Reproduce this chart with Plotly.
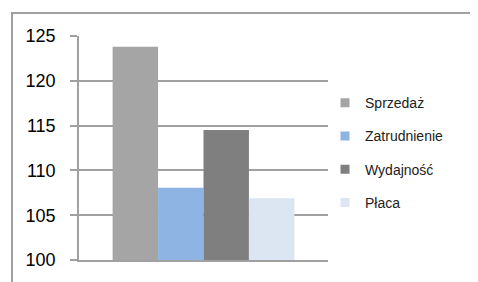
import plotly.graph_objects as go

categories = ["Sprzedaż", "Zatrudnienie", "Wydajność", "Płaca"]
values = [123.8, 108.05, 114.5, 106.9]
colors = ["#A5A5A5", "#8EB4E3", "#7F7F7F", "#DCE6F2"]
y_ticks = [100, 105, 110, 115, 120, 125]

fig = go.Figure()
for name, v, c in zip(categories, values, colors):
    fig.add_trace(go.Bar(x=[""], y=[v - 100], base=100, name=name,
                         marker=dict(color=c, line=dict(width=0)),
                         showlegend=False))
for name, c in zip(categories, colors):
    fig.add_trace(go.Scatter(x=[None], y=[None], mode="markers", name=name,
                             legendgroup=name,
                             marker=dict(symbol="square", size=9, color=c)))

grid = "#A0A0A0"
fig.update_layout(
    width=470, height=274,
    margin=dict(l=71, r=150, t=28, b=22),
    paper_bgcolor="white", plot_bgcolor="white",
    barmode="group", bargap=0.27, bargroupgap=0,
    font=dict(family="Liberation Sans", color="#000000"),
    showlegend=True,
    legend=dict(x=0.988, xanchor="left", y=0.479, yanchor="middle",
                font=dict(size=14, color="#222222"),
                tracegroupgap=12, itemwidth=30,
                bgcolor="rgba(0,0,0,0)"),
    xaxis=dict(showticklabels=False, ticks="", showgrid=False,
               showline=True, linecolor=grid, linewidth=2, zeroline=False),
    yaxis=dict(range=[100, 125], tickvals=y_ticks, showgrid=True,
               gridcolor=grid, gridwidth=1.5, zeroline=False,
               showline=True, linecolor=grid, linewidth=1.5,
               ticks="outside", ticklen=7, tickcolor=grid, tickwidth=1.5,
               ticklabelstandoff=11,
               tickfont=dict(size=18, color="#000000")),
    shapes=[dict(type="rect", xref="paper", yref="paper",
                 x0=-0.269, x1=1.578, y0=-0.2, y1=1.103,
                 line=dict(color=grid, width=2), fillcolor="rgba(0,0,0,0)",
                 layer="below")],
)

fig.write_html("out.html")
